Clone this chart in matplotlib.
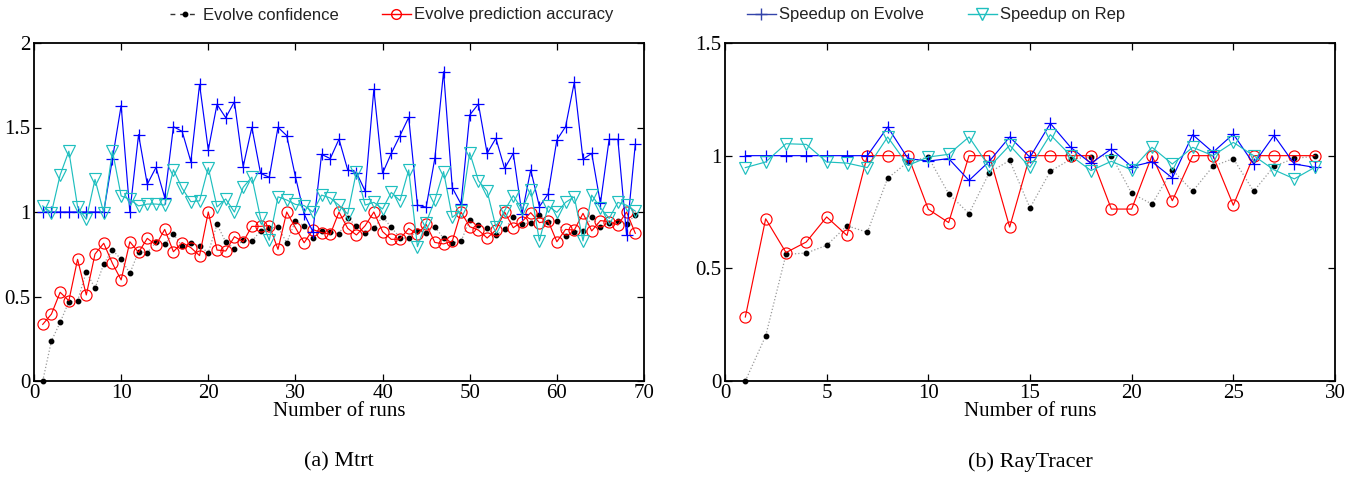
import matplotlib
matplotlib.use("Agg")
import matplotlib.pyplot as plt
from matplotlib.lines import Line2D
import numpy as np

# ---- data ----
runs_mtrt = np.arange(1, 70)
conf_mtrt = [0, 0.237, 0.347, 0.469, 0.473, 0.647, 0.548, 0.692, 0.775, 0.72,
             0.637, 0.765, 0.76, 0.82, 0.81, 0.87, 0.797, 0.815, 0.799, 0.759,
             0.927, 0.823, 0.784, 0.833, 0.826, 0.89, 0.904, 0.912, 0.818, 0.947,
             0.92, 0.849, 0.885, 0.881, 0.87, 0.963, 0.919, 0.878, 0.903, 0.972,
             0.909, 0.848, 0.844, 0.89, 0.878, 0.913, 0.844, 0.818, 0.826, 0.953,
             0.923, 0.903, 0.864, 0.897, 0.968, 0.929, 0.937, 0.982, 0.943, 0.947,
             0.858, 0.884, 0.89, 0.968, 0.913, 0.937, 0.949, 0.929, 0.982]
acc_mtrt = [0.335, 0.396, 0.525, 0.475, 0.72, 0.509, 0.751, 0.815, 0.696, 0.598,
            0.824, 0.761, 0.844, 0.805, 0.897, 0.765, 0.819, 0.789, 0.742, 1.0,
            0.775, 0.769, 0.854, 0.824, 0.915, 0.915, 0.92, 0.779, 1.0, 0.907,
            0.818, 0.896, 0.878, 0.868, 1.0, 0.903, 0.864, 0.919, 1.0, 0.884,
            0.838, 0.84, 0.903, 0.868, 0.927, 0.82, 0.811, 0.828, 1.0, 0.913,
            0.893, 0.846, 0.893, 1.0, 0.907, 0.943, 0.996, 0.937, 0.947, 0.824,
            0.897, 0.893, 0.992, 0.888, 0.949, 0.943, 0.923, 1.0, 0.874]
spd_evolve_mtrt = [1.0, 1.0, 1.0, 1.0, 1.0, 1.0, 1.0, 1.0, 1.314, 1.63,
                   1.0, 1.458, 1.164, 1.264, 1.085, 1.505, 1.477, 1.298, 1.755, 1.367,
                   1.637, 1.558, 1.653, 1.268, 1.501, 1.229, 1.205, 1.501, 1.452, 1.209,
                   0.988, 0.884, 1.341, 1.316, 1.431, 1.249, 1.233, 1.124, 1.726, 1.229,
                   1.347, 1.452, 1.56, 1.041, 1.028, 1.318, 1.83, 1.144, 1.047, 1.574,
                   1.639, 1.347, 1.436, 1.258, 1.347, 0.988, 1.249, 1.032, 1.107, 1.426,
                   1.505, 1.767, 1.312, 1.347, 1.051, 1.43, 1.43, 0.864, 1.4]
spd_rep_mtrt = [1.036, 0.996, 1.219, 1.36, 1.031, 0.957, 1.193, 0.996, 1.362, 1.095,
                1.075, 1.036, 1.047, 1.047, 1.041, 1.25, 1.14, 1.061, 1.066, 1.262,
                1.03, 1.077, 1.0, 1.146, 1.206, 0.963, 0.833, 1.09, 1.071, 1.045,
                1.038, 1.0, 1.1, 1.083, 1.04, 0.988, 1.239, 1.041, 1.057, 1.018,
                1.116, 1.067, 1.249, 0.795, 0.937, 1.071, 1.239, 0.968, 1.008, 1.351,
                1.185, 1.123, 0.913, 1.008, 1.097, 1.015, 1.132, 0.829, 1.035, 0.998,
                1.057, 1.09, 0.829, 1.1, 1.025, 0.962, 1.057, 1.04, 1.005]

runs_ray = np.arange(1, 30)
conf_ray = [0, 0.2, 0.562, 0.568, 0.602, 0.689, 0.66, 0.9, 0.972, 0.994,
            0.831, 0.743, 0.925, 0.979, 0.768, 0.931, 0.984, 0.996, 1.0, 0.833,
            0.785, 0.937, 0.842, 0.953, 0.987, 0.842, 0.953, 0.988, 0.997]
acc_ray = [0.284, 0.72, 0.57, 0.617, 0.728, 0.646, 1.0, 1.0, 1.0, 0.762,
           0.703, 1.0, 1.0, 0.683, 1.0, 1.0, 1.0, 1.0, 0.763, 0.763,
           1.0, 0.8, 1.0, 1.0, 0.78, 1.0, 1.0, 1.0, 1.0]
spd_evolve_ray = [1.0, 1.0, 1.0, 1.0, 1.0, 1.0, 1.0, 1.127, 0.987, 0.976,
                  0.987, 0.89, 0.975, 1.083, 0.993, 1.143, 1.037, 0.966, 1.03, 0.951,
                  0.973, 0.901, 1.093, 1.015, 1.096, 0.963, 1.09, 0.963, 0.948]
spd_rep_ray = [0.947, 0.972, 1.053, 1.05, 0.972, 0.967, 0.947, 1.083, 0.957, 0.994,
               1.006, 1.083, 0.95, 1.046, 0.948, 1.093, 1.0, 0.934, 0.975, 0.937,
               1.037, 0.963, 1.037, 1.0, 1.059, 1.0, 0.937, 0.897, 0.948]

labels = ["Evolve confidence", "Evolve prediction accuracy",
          "Speedup on Evolve", "Speedup on Rep"]
captions = ["(a) Mtrt", "(b) RayTracer"]

CYAN = "#1fbfbf"
serif = "Liberation Serif"
sans = "Liberation Sans"


def draw_panel(ax, x, conf, acc, spd_e, spd_r, xmax, ymax, xstep, yticks):
    ax.plot(x, conf, color="#9a9a9a", ls=":", lw=0.9, marker="o", ms=3.2,
            mfc="black", mec="black", clip_on=False)
    ax.plot(x, acc, color="red", lw=0.85, marker="o", ms=8, mfc="none",
            mec="red", mew=0.85, clip_on=False)
    ax.plot(x, spd_e, color="blue", lw=0.85, marker="+", ms=8.5, mew=0.9,
            clip_on=False)
    ax.plot(x, spd_r, color=CYAN, lw=0.85, marker="v", ms=8.5, mfc="none",
            mec=CYAN, mew=0.85, clip_on=False)
    ax.set_xlim(0, xmax)
    ax.set_ylim(0, ymax)
    ax.set_xticks(np.arange(0, xmax + 1, xstep))
    ax.set_yticks(yticks)
    ax.set_yticklabels([("%g" % t) for t in yticks])
    ax.tick_params(direction="in", top=True, right=True, length=5, width=0.9,
                   pad=2.5, labelsize=15)
    for lab in ax.get_xticklabels() + ax.get_yticklabels():
        lab.set_fontfamily(serif)
    for s in ax.spines.values():
        s.set_linewidth(1.3)
    ax.set_xlabel("Number of runs", fontsize=15, family=serif, labelpad=-1)


fig = plt.figure(figsize=(13.64, 4.79), dpi=100)
ax1 = fig.add_axes([34 / 1364, 1 - 381 / 479, 610 / 1364, 338 / 479])
ax2 = fig.add_axes([725 / 1364, 1 - 381 / 479, 610 / 1364, 338 / 479])

draw_panel(ax1, runs_mtrt, conf_mtrt, acc_mtrt, spd_evolve_mtrt, spd_rep_mtrt,
           70, 2, 10, [0, 0.5, 1, 1.5, 2])
draw_panel(ax2, runs_ray, conf_ray, acc_ray, spd_evolve_ray, spd_rep_ray,
           30, 1.5, 5, [0, 0.5, 1, 1.5])

fig.text(339 / 1364, 1 - 462 / 479, captions[0], ha="center", va="center",
         fontsize=16, family=serif)
fig.text(1030 / 1364, 1 - 462 / 479, captions[1], ha="center", va="center",
         fontsize=16, family=serif)

# legend proxies (drawn like the original legend strip)
h_conf = Line2D([], [], color="#333333", ls=(0, (3.5, 3.5)), lw=1.0,
                marker="o", ms=3.2, mfc="black", mec="black")
h_acc = Line2D([], [], color="red", lw=1.0, marker="o", ms=7, mfc="none", mec="red")
h_e = Line2D([], [], color="#3344aa", lw=1.0, marker="+", ms=9)
h_r = Line2D([], [], color=CYAN, lw=1.0, marker="v", ms=8, mfc="none", mec=CYAN)

leg_kw = dict(ncol=2, frameon=False, loc="center", handlelength=1.75,
              handletextpad=0.2, columnspacing=2.6,
              prop={"family": sans, "size": 12})
l1 = fig.legend([h_conf, h_acc], labels[:2], bbox_to_anchor=(392 / 1364, 1 - 15 / 479),
                **leg_kw)
l2 = fig.legend([h_e, h_r], labels[2:], bbox_to_anchor=(936 / 1364, 1 - 15 / 479),
                **leg_kw)
for leg in (l1, l2):
    for t in leg.get_texts():
        t.set_color("#222222")

fig.savefig("out.png", dpi=100)
